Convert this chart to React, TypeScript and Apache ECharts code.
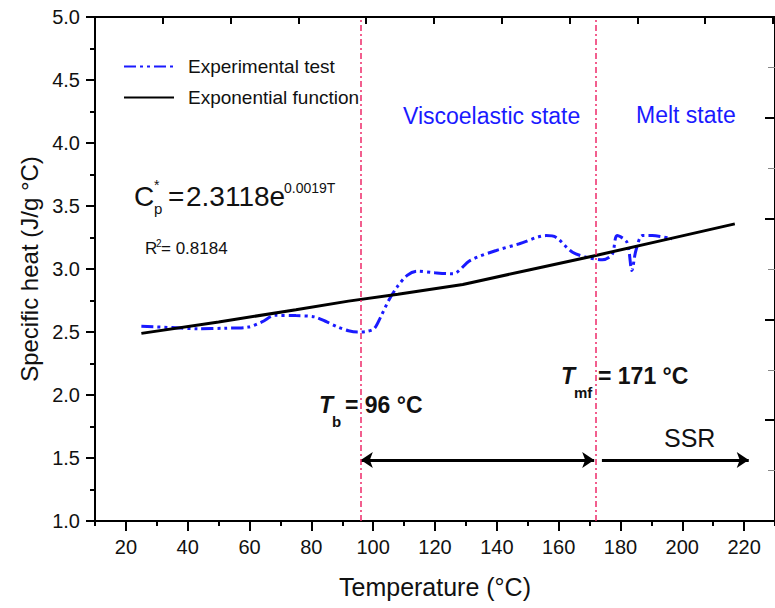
import React, { useEffect, useRef } from "react";
import * as echarts from "echarts";

// ---- data ----
const expTemp = [25, 35, 43.5, 52, 59.6, 64, 68.2, 75, 81, 85, 88.6, 92, 95, 98, 100.3, 102.4, 105, 107.7, 111, 114.1, 120, 125.8, 131.3, 139.8, 147.3, 155.9, 159.1, 164.5, 169.8, 174.1, 177.3, 178.9, 182.1, 183.7, 185, 187.1, 190.3, 196.7];
const expCp = [2.545, 2.535, 2.526, 2.53, 2.539, 2.58, 2.632, 2.63, 2.62, 2.58, 2.539, 2.51, 2.5, 2.505, 2.526, 2.618, 2.75, 2.856, 2.95, 2.983, 2.97, 2.962, 3.067, 3.147, 3.2, 3.265, 3.252, 3.133, 3.089, 3.073, 3.115, 3.265, 3.212, 2.988, 3.147, 3.265, 3.265, 3.24];

const fitTemp = [25, 50, 75, 92, 108, 129, 150, 172, 195, 217];
const fitCp = [2.489, 2.58, 2.676, 2.745, 2.8, 2.877, 2.99, 3.107, 3.235, 3.358];

const transitionTemps = [96, 172]; // T_b and T_mf marker lines
const arrowLevel = 1.484;
const viscoArrow = [96, 171.5];
const ssrArrow = [174, 221.5];

const xMajorTicks = [20, 40, 60, 80, 100, 120, 140, 160, 180, 200, 220];
const xMinorTicks = [10, 30, 50, 70, 90, 110, 130, 150, 170, 190, 210, 230];

const FONT = "Liberation Sans, Arial, Helvetica, sans-serif";
const PINK = "#ee2a6a";

export default function App() {
  const ref = useRef<HTMLDivElement>(null);

  useEffect(() => {
    if (!ref.current) return;
    const chart = echarts.init(ref.current, null, { renderer: "svg" });

    const expData = expTemp.map((t, i) => [t, expCp[i]]);
    const fitData = fitTemp.map((t, i) => [t, fitCp[i]]);

    const txt = (x: number, y: number, text: string, size: number, extra: any = {}) => ({
      type: "text",
      x,
      y,
      silent: true,
      style: {
        text,
        fontSize: size,
        fontFamily: FONT,
        fill: extra.fill || "#111",
        fontWeight: extra.fontWeight || "normal",
        fontStyle: extra.fontStyle || "normal",
        align: extra.align || "left",
        verticalAlign: "middle",
      },
    });

    const option: any = {
      animation: false,
      backgroundColor: "#fff",
      grid: { left: 95, top: 17, width: 686, height: 504 },
      legend: {
        data: ["Experimental test", "Exponential function"],
        orient: "vertical",
        left: 118,
        top: 52,
        itemWidth: 50,
        itemHeight: 20,
        itemGap: 12,
        itemStyle: { opacity: 0, borderWidth: 0 },
        textStyle: { fontSize: 19, fontFamily: FONT, color: "#111", padding: [0, 0, 0, 9] },
      },
      xAxis: [
        {
          type: "value",
          min: 10,
          max: 230,
          interval: 10,
          position: "bottom",
          name: "Temperature (°C)",
          nameLocation: "middle",
          nameGap: 53,
          nameTextStyle: { fontSize: 25, fontFamily: FONT, color: "#111" },
          axisLine: { show: true, onZero: false, lineStyle: { color: "#000", width: 2 } },
          axisTick: { show: true, inside: false, length: 10, customValues: xMajorTicks, lineStyle: { color: "#000", width: 2 } },
          axisLabel: { show: true, customValues: xMajorTicks, margin: 16, fontSize: 20, fontFamily: FONT, color: "#111" },
          splitLine: { show: false },
        },
        {
          type: "value",
          min: 10,
          max: 230,
          interval: 10,
          position: "bottom",
          axisLine: { show: false, onZero: false },
          axisTick: { show: true, inside: false, length: 5, customValues: xMinorTicks, lineStyle: { color: "#000", width: 2 } },
          axisLabel: { show: false },
          splitLine: { show: false },
        },
        {
          type: "value",
          min: 0,
          max: 10.03,
          interval: 1,
          position: "top",
          axisLine: { show: true, onZero: false, lineStyle: { color: "#000", width: 2 } },
          axisTick: { show: true, inside: true, length: 7, lineStyle: { color: "#000", width: 2 } },
          axisLabel: { show: false },
          splitLine: { show: false },
        },
      ],
      yAxis: [
        {
          type: "value",
          min: 1,
          max: 5,
          interval: 0.5,
          position: "left",
          name: "Specific heat (J/g °C)",
          nameLocation: "middle",
          nameGap: 53,
          nameTextStyle: { fontSize: 24, fontFamily: FONT, color: "#111" },
          axisLine: { show: true, onZero: false, lineStyle: { color: "#000", width: 2 } },
          axisTick: { show: true, inside: false, length: 9, lineStyle: { color: "#000", width: 2 } },
          minorTick: { show: true, splitNumber: 2, length: 5, lineStyle: { color: "#000", width: 2 } },
          axisLabel: { show: true, margin: 15, fontSize: 20, fontFamily: FONT, color: "#111", formatter: (v: number) => v.toFixed(1) },
          splitLine: { show: false },
        },
        {
          type: "value",
          min: 0,
          max: 5,
          interval: 1,
          position: "right",
          axisLine: { show: true, onZero: false, lineStyle: { color: "#000", width: 2 } },
          axisTick: { show: true, inside: true, length: 10, lineStyle: { color: "#000", width: 2 } },
          minorTick: { show: true, splitNumber: 2, length: 7, lineStyle: { color: "#888", width: 1 } },
          axisLabel: { show: false },
          splitLine: { show: false },
        },
      ],
      series: [
        {
          name: "Experimental test",
          type: "line",
          xAxisIndex: 0,
          yAxisIndex: 0,
          data: expData,
          smooth: 0.3,
          symbol: "none",
          showSymbol: false,
          color: "#1a1aff",
          lineStyle: { color: "#1a1aff", width: 3, type: [12, 4, 3, 4, 3, 4] },
          z: 3,
          markLine: {
            silent: true,
            symbol: "none",
            symbolSize: 12,
            label: { show: false },
            lineStyle: { color: "#000", width: 3, type: "solid" },
            data: [
              [
                { coord: [viscoArrow[0], arrowLevel], symbol: "arrow" },
                { coord: [viscoArrow[1], arrowLevel], symbol: "arrow" },
              ],
              [
                { coord: [ssrArrow[0], arrowLevel], symbol: "none" },
                { coord: [ssrArrow[1], arrowLevel], symbol: "arrow" },
              ],
            ],
          },
        },
        {
          name: "Exponential function",
          type: "line",
          xAxisIndex: 0,
          yAxisIndex: 0,
          data: fitData,
          symbol: "none",
          showSymbol: false,
          color: "#000",
          lineStyle: { color: "#000", width: 3, type: "solid" },
          z: 4,
        },
        {
          name: "transitions",
          type: "line",
          xAxisIndex: 0,
          yAxisIndex: 0,
          data: [],
          color: PINK,
          symbol: "none",
          z: 2,
          markLine: {
            silent: true,
            symbol: "none",
            label: { show: false },
            emphasis: { disabled: true },
            lineStyle: { color: PINK, width: 1.5, opacity: 1, type: [6, 3, 2, 3] },
            data: transitionTemps.map((t) => ({ xAxis: t, lineStyle: { color: PINK, width: 1.5 } })),
          },
        },
      ],
      graphic: [
        txt(403, 116, "Viscoelastic state", 23, { fill: "#1a1aff" }),
        txt(636, 115, "Melt state", 23, { fill: "#1a1aff" }),
        // equation
        txt(134, 196, "C", 28),
        txt(154, 185, "*", 14),
        txt(154, 208, "p", 15),
        txt(168, 196, "=", 28),
        txt(186, 196, "2.3118e", 28),
        txt(284, 188, "0.0019T", 14),
        // R^2
        txt(145, 248, "R", 17),
        txt(156, 243, "2", 10),
        txt(161, 248, "= 0.8184", 17),
        // T_b
        txt(319, 405, "T", 23, { fontWeight: "bold", fontStyle: "italic" }),
        txt(332, 421, "b", 15, { fontWeight: "bold" }),
        txt(345, 405, "= 96 °C", 23, { fontWeight: "bold" }),
        // T_mf
        txt(561, 376, "T", 23, { fontWeight: "bold", fontStyle: "italic" }),
        txt(574, 392, "mf", 15, { fontWeight: "bold" }),
        txt(598, 376, "= 171 °C", 23, { fontWeight: "bold" }),
        // SSR
        txt(664, 438, "SSR", 25),
      ],
    };

    chart.setOption(option);
    return () => chart.dispose();
  }, []);

  return (
    <div
      ref={ref}
      style={{ position: "absolute", left: 0, top: 0, width: 775, height: 608 }}
    />
  );
}
